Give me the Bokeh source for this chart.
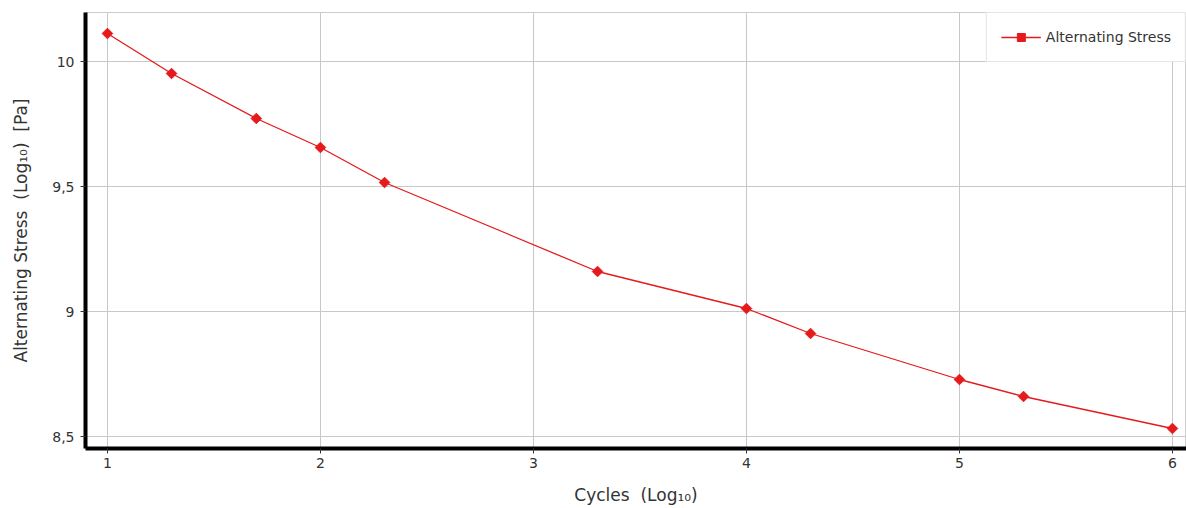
from bokeh.plotting import figure
from bokeh.models import Range1d, FixedTicker, Legend, LegendItem
from bokeh.embed import file_html
from bokeh.resources import INLINE

cycles_log = [1.0, 1.301, 1.699, 2.0, 2.301, 3.301, 4.0, 4.301, 5.0, 5.301, 6.0]
stress_log = [10.112, 9.952, 9.772, 9.656, 9.516, 9.16, 9.012, 8.912, 8.728, 8.66, 8.532]
x_ticks = [1, 2, 3, 4, 5, 6]
y_ticks = [8.5, 9, 9.5, 10]
y_tick_labels = ["8,5", "9", "9,5", "10"]
series_name = "Alternating Stress"

FONT = "DejaVu Sans"
RED = "#e41a1c"
NB = "\u00a0"

p = figure(width=1186, height=508, output_backend="svg", toolbar_location=None,
           x_range=Range1d(0.897, 6.066), y_range=Range1d(8.452, 10.196),
           min_border_left=85, min_border_bottom=60, min_border_top=12, min_border_right=0)

p.outline_line_color = "#cccccc"
p.background_fill_color = "white"
p.border_fill_color = "white"

line = p.line(cycles_log, stress_log, line_color=RED, line_width=1.3)
pts = p.scatter(cycles_log, stress_log, marker="square", angle=0.7854, size=7.5,
                fill_color=RED, line_color=RED)

p.xaxis.ticker = FixedTicker(ticks=x_ticks)
p.yaxis.ticker = FixedTicker(ticks=y_ticks)
p.yaxis.major_label_overrides = {v: s for v, s in zip(y_ticks, y_tick_labels)}

for ax in (p.xaxis[0], p.yaxis[0]):
    ax.axis_line_width = 4
    ax.axis_line_color = "black"
    ax.major_tick_line_color = "#333333"
    ax.major_tick_in = 0
    ax.major_tick_out = 5
    ax.minor_tick_line_color = None
    ax.major_label_text_font = FONT
    ax.major_label_text_font_size = "14px"
    ax.major_label_text_color = "#333333"
    ax.axis_label_text_font = FONT
    ax.axis_label_text_font_size = "17px"
    ax.axis_label_text_font_style = "normal"
    ax.axis_label_text_color = "#333333"

p.xaxis.axis_label = f"Cycles{NB}{NB}(Log\u2081\u2080)"
p.yaxis.axis_label = f"Alternating Stress{NB}{NB}(Log\u2081\u2080){NB}{NB}[Pa]"
p.xaxis.axis_label_standoff = 14
p.yaxis.axis_label_standoff = 18
p.xaxis.major_label_standoff = 4
p.yaxis.major_label_standoff = 6

p.xgrid.grid_line_color = "#c8c8c8"
p.ygrid.grid_line_color = "#c8c8c8"
p.xgrid.ticker = FixedTicker(ticks=x_ticks)
p.ygrid.ticker = FixedTicker(ticks=y_ticks)

legend = Legend(items=[LegendItem(label=series_name, renderers=[line, pts])],
                location="top_right")
legend.label_text_font = FONT
legend.label_text_font_size = "14px"
legend.label_text_color = "#333333"
legend.border_line_color = "#cccccc"
legend.background_fill_alpha = 1
legend.margin = 0
legend.padding = 14
legend.glyph_width = 40
p.add_layout(legend)

open("out.html", "w").write(file_html(p, INLINE))
